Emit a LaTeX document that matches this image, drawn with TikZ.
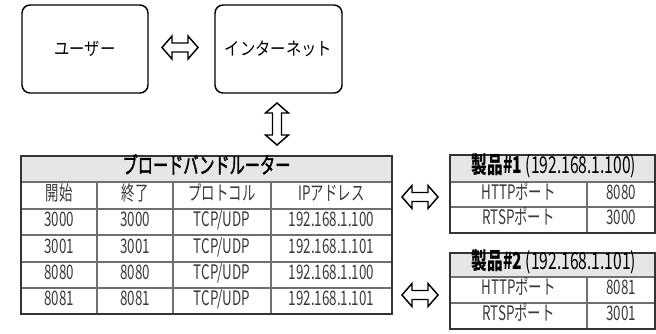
\documentclass[tikz,border=0pt]{standalone}
\usepackage{fontspec}
\setmainfont{Noto Sans CJK JP}[FakeStretch=0.67]
\newfontfamily\boxfont{Noto Sans CJK JP}[FakeStretch=0.85]
\newfontfamily\medfont{Noto Sans CJK JP}[FakeStretch=0.67, FakeBold=1.5]
\definecolor{txt}{HTML}{3A3A3A}
\definecolor{hdr}{HTML}{E6E6E6}
\definecolor{inner}{HTML}{707070}
\definecolor{outer}{HTML}{333333}
\tikzset{
  cell/.style={inner sep=0pt, text height=0.72em, text depth=0.04em, font=\fontsize{15}{17}\selectfont, text=txt},
  hcell/.style={cell, font=\fontsize{17.5}{19}\selectfont, text=black},
  boxlbl/.style={inner sep=0pt, font=\boxfont\fontsize{13.5}{15}\selectfont, text=black},
  rbox/.style={draw=black, line width=1.1pt, rounded corners=6pt, fill=white},
  innerline/.style={draw=inner, line width=0.8pt},
  outerline/.style={draw=outer, line width=1.2pt},
  pics/dblarrow/.style={code={
    \draw[line width=1.1pt, fill=white, line join=miter]
      (-#1,0) -- (-#1+10,-11.5) -- (-#1+10,-4.5) -- (#1-10,-4.5) -- (#1-10,-11.5) -- (#1,0)
      -- (#1-10,11.5) -- (#1-10,4.5) -- (-#1+10,4.5) -- (-#1+10,11.5) -- cycle;}}
}
\begin{document}
\begin{tikzpicture}[x=0.75pt,y=-0.75pt]
\useasboundingbox (0,0) rectangle (656,333);

% top boxes
\draw[rbox] (22,5) rectangle (148,93);
\node[boxlbl] (user) at (85,49) {ユーザー};
\draw[rbox] (215,5) rectangle (342,93);
\node[boxlbl] (inet) at (278.5,49) {インターネット};

\pic at (180,47.5) {dblarrow=18};
\pic[rotate=90] at (277,124) {dblarrow=21};
\pic at (420,197) {dblarrow=18};
\pic at (420,295) {dblarrow=18};

% router table
\fill[hdr] (21,156) rectangle (392,182);
\draw[innerline] (21,182) -- (392,182);
\foreach \y in {209,235,262,288} \draw[innerline] (21,\y) -- (392,\y);
\foreach \x in {97,173,271} \draw[innerline] (\x,182) -- (\x,314);
\draw[outerline] (21,156) rectangle (392,314);
\node[hcell, font=\medfont\fontsize{17}{19}\selectfont] (rhead) at (206.5,169) {ブロードバンドルーター};
\node[cell] (h1) at (59,195.5) {開始};
\node[cell] (h2) at (135,195.5) {終了};
\node[cell] (h3) at (222,195.5) {プロトコル};
\node[cell] (h4) at (331.5,195.5) {IPアドレス};
\foreach \a/\b/\c/\y [count=\i] in {3000/3000/192.168.1.100/222, 3001/3001/192.168.1.101/248.5, 8080/8080/192.168.1.100/275, 8081/8081/192.168.1.101/301}{
  \node[cell] (s\i) at (59,\y) {\a};
  \node[cell] (e\i) at (135,\y) {\b};
  \node[cell] (p\i) at (222,\y) {TCP/UDP};
  \node[cell] (ip\i) at (331.5,\y) {\c};
}

% product 1
\fill[hdr] (450,155) rectangle (655,182);
\draw[innerline] (450,182) -- (655,182);
\draw[innerline] (450,207) -- (655,207);
\draw[innerline] (587,182) -- (587,233);
\draw[outerline] (450,155) rectangle (655,233);
\node[hcell] (p1h) at (554,168.5) {{\bfseries 製品\#1} (192.168.1.100)};
\node[cell] (p1a) at (518.5,194.5) {HTTPポート};
\node[cell] (p1b) at (621,194.5) {8080};
\node[cell] (p1c) at (518.5,220) {RTSPポート};
\node[cell] (p1d) at (621,220) {3000};

% product 2
\fill[hdr] (450,253) rectangle (655,277);
\draw[innerline] (450,277) -- (655,277);
\draw[innerline] (450,303) -- (655,303);
\draw[innerline] (587,277) -- (587,329);
\draw[outerline] (450,253) rectangle (655,329);
\node[hcell] (p2h) at (554,265) {{\bfseries 製品\#2} (192.168.1.101)};
\node[cell] (p2a) at (518.5,290) {HTTPポート};
\node[cell] (p2b) at (621,290) {8081};
\node[cell] (p2c) at (518.5,316) {RTSPポート};
\node[cell] (p2d) at (621,316) {3001};
\end{tikzpicture}
\end{document}
